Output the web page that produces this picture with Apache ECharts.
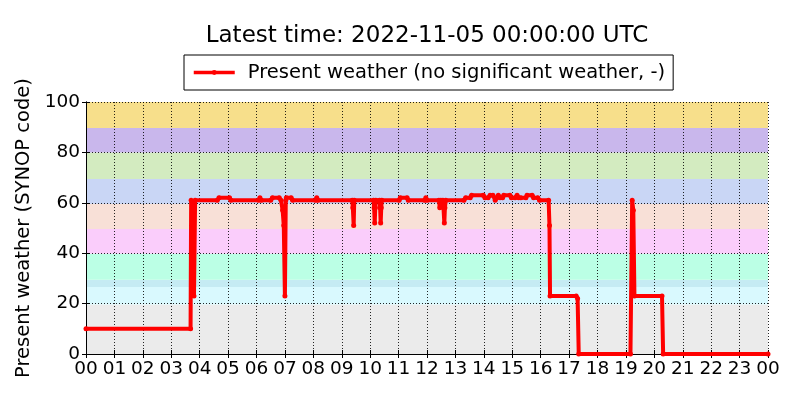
<!DOCTYPE html>
<html>
<head>
<meta charset="utf-8">
<script src="https://cdn.jsdelivr.net/npm/echarts@6/dist/echarts.min.js"></script>
<style>
html,body{margin:0;padding:0;background:#fff;}
#chart{width:800px;height:400px;}
</style>
</head>
<body>
<div id="chart"></div>
<script>
// Time of each observation (hours since 2022-11-04 00:00 UTC)
const hours = [
  0, 3.68, 3.70, 3.80, 3.84,
  4.62, 4.68, 5.05, 5.10,
  6.08, 6.12, 6.17, 6.50, 6.56, 6.80, 6.86, 6.92, 6.96, 7.00, 7.03, 7.05, 7.22, 7.27,
  8.08, 8.12, 8.16,
  9.37, 9.39, 9.42, 9.44,
  10.12, 10.14, 10.16, 10.18, 10.20, 10.33, 10.35, 10.37, 10.39, 10.41,
  11.02, 11.06, 11.30, 11.34, 11.92, 11.96, 12.00,
  12.42, 12.45, 12.49, 12.56, 12.58, 12.61, 12.63, 12.66,
  13.30, 13.36, 13.52, 13.57, 13.98, 14.04, 14.15, 14.22, 14.32, 14.40, 14.45, 14.51, 14.57,
  14.66, 14.70, 14.92, 14.97, 15.10, 15.17, 15.22, 15.30, 15.48, 15.52, 15.70, 15.75, 15.90, 15.96,
  16.28, 16.31, 16.33, 17.25, 17.30, 17.34,
  19.16, 19.22, 19.26, 19.30, 20.27, 20.31, 24
];
// Present weather SYNOP code
const codes = [
  10, 10, 61, 23, 61,
  61, 62, 62, 61,
  61, 62, 61, 61, 62, 62, 61, 57, 51, 23, 61, 62, 62, 61,
  61, 62, 61,
  61, 58, 51, 61,
  61, 58, 52, 58, 61, 61, 58, 52, 58, 61,
  61, 62, 62, 61, 61, 62, 61,
  61, 58, 61, 61, 58, 52, 58, 61,
  61, 62, 62, 63, 63, 62, 62, 63, 63, 61, 62, 63, 62,
  62, 63, 63, 62, 62, 63, 62, 62, 62, 63, 63, 62, 62, 61,
  61, 51, 23, 23, 22, 0,
  0, 61, 57, 23, 23, 0, 0
];
// Background code bands
const bandEdges = [0, 19.6, 26.6, 29.5, 39.8, 49.6, 59.5, 69.4, 80.0, 89.7, 100];
const bandColors = ['#ebebeb', '#d9f9fe', '#c5ebf3', '#bbffe5', '#facdfb', '#f8e0d7', '#c9d6f5', '#d3ebc0', '#c9b7ec', '#f7df8b'];
const xTicks = ['00','01','02','03','04','05','06','07','08','09','10','11','12','13','14','15','16','17','18','19','20','21','22','23','00'];
const yTicks = [0, 20, 40, 60, 80, 100];

const seriesName = 'Present weather (no significant weather, -)';
const titleText = 'Latest time: 2022-11-05 00:00:00 UTC';
const yName = 'Present weather (SYNOP code)';

const FONT = 'DejaVu Sans';
const chart = echarts.init(document.getElementById('chart'), null, {renderer: 'canvas'});

const points = hours.map((h, i) => [h, codes[i]]);
const bands = bandColors.map((c, i) => [
  {yAxis: bandEdges[i], itemStyle: {color: c, opacity: 1}},
  {yAxis: bandEdges[i + 1]}
]);

const gridLine = {show: true, lineStyle: {color: '#000', width: 1, type: [1, 2], opacity: 0.85}};
const axisLineBlack = {show: true, lineStyle: {color: '#000', width: 1}};
const tickIn = {show: true, inside: true, length: 4, lineStyle: {color: '#000', width: 1}};

chart.setOption({
  animation: false,
  backgroundColor: '#fff',
  title: {
    text: titleText,
    left: 427, textAlign: 'center',
    top: 25, padding: 0,
    textStyle: {fontFamily: FONT, fontSize: 23, fontWeight: 'normal', color: '#000'}
  },
  legend: {
    data: [seriesName],
    left: 184, top: 55,
    padding: [7.5, 8, 7.5, 8],
    borderColor: '#000', borderWidth: 1, borderRadius: 0,
    backgroundColor: '#fff',
    itemWidth: 41, itemHeight: 6,
    lineStyle: {width: 3.5},
    textStyle: {fontFamily: FONT, fontSize: 19.5, color: '#000', padding: [0, 0, 0, 8]}
  },
  grid: {left: 86, right: 32, top: 102, bottom: 46},
  xAxis: [{
    type: 'value', min: 0, max: 24, interval: 1, z: 5,
    axisLine: axisLineBlack, axisTick: tickIn, splitLine: gridLine,
    axisLabel: {
      fontFamily: FONT, fontSize: 18.5, color: '#000', margin: 6,
      formatter: v => xTicks[Math.round(v)]
    }
  }, {
    type: 'value', min: 0, max: 24, interval: 1, position: 'top', z: 5,
    axisLine: axisLineBlack, axisTick: tickIn, splitLine: {show: false}, axisLabel: {show: false}
  }],
  yAxis: [{
    type: 'value', min: 0, max: 100, interval: 20, z: 5,
    axisLine: axisLineBlack, axisTick: tickIn, splitLine: gridLine,
    axisLabel: {fontFamily: FONT, fontSize: 18.5, color: '#000', margin: 6,
      formatter: v => String(yTicks[Math.round(v / 20)])},
    name: yName, nameLocation: 'middle', nameGap: 47,
    nameTextStyle: {fontFamily: FONT, fontSize: 19.5, color: '#000'}
  }, {
    type: 'value', min: 0, max: 100, interval: 20, position: 'right', z: 5,
    axisLine: axisLineBlack, axisTick: tickIn, splitLine: {show: false}, axisLabel: {show: false}
  }],
  series: [{
    type: 'line', name: 'bands', data: [], z: 1, silent: true,
    markArea: {silent: true, data: bands}
  }, {
    type: 'line', name: seriesName, data: points, z: 10,
    color: '#ff0000',
    lineStyle: {color: '#ff0000', width: 4},
    symbol: 'circle', symbolSize: 5, showSymbol: true, showAllSymbol: true,
    itemStyle: {color: '#ff0000', borderWidth: 0},
    clip: true
  }]
});
</script>
</body>
</html>
